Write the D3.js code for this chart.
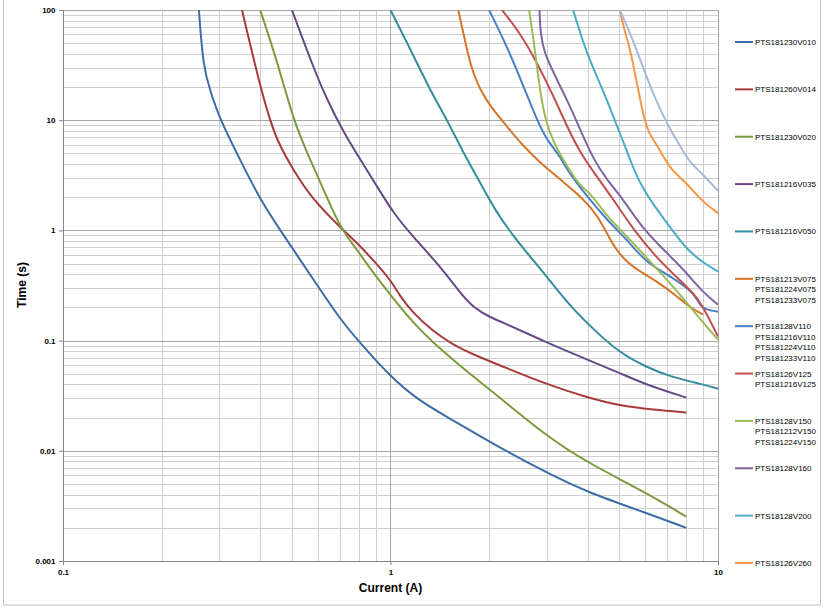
<!DOCTYPE html>
<meta charset="utf-8">
<title>PTS time-current curves</title>
<script src="https://d3js.org/d3.v7.min.js"></script>
<style>
body { margin: 0; background: #fff; }
svg { font-family: "Liberation Sans", Arial, sans-serif; }
.tick text { font-size: 8px; font-weight: bold; fill: #000; }
.axis path, .axis line { stroke: #868686; }
.curve { fill: none; stroke-width: 2px; stroke-linejoin: round; }
.legend text { font-size: 8px; fill: #000; }
</style>
<body>
<div id="chart"></div>
<script>
// current (A), time (s)
var v010 = [[0.26,100],[0.268,30.4],[0.281,18.8],[0.302,10],[0.347,4.4],[0.40,1.9],[0.46,1.01],[0.53,0.54],[0.61,0.29],[0.70,0.158],[0.81,0.094],[1.0,0.047],[1.21,0.029],[1.52,0.0196],[2.0,0.0121],[3.0,0.0063],[4.0,0.0042],[6.0,0.00275],[8.0,0.002]];
var v014 = [[0.352,100],[0.40,20.2],[0.429,10],[0.45,6.6],[0.504,3.54],[0.58,1.89],[0.70,1.08],[0.79,0.77],[0.885,0.54],[1.0,0.356],[1.07,0.252],[1.17,0.179],[1.35,0.121],[1.55,0.092],[1.79,0.0745],[2.21,0.058],[3.0,0.040],[4.0,0.0304],[5.0,0.0257],[6.35,0.0236],[8.0,0.0223]];
var v020 = [[0.40,100],[0.45,35],[0.505,10],[0.568,4.37],[0.64,2.0],[0.70,1.08],[0.79,0.667],[0.885,0.413],[1.0,0.26],[1.17,0.145],[1.42,0.083],[1.79,0.047],[2.06,0.034],[3.0,0.0135],[4.0,0.0078],[6.0,0.0042],[8.0,0.00253]];
var v035 = [[0.50,100],[0.58,30.6],[0.64,15.3],[0.72,7.7],[0.81,4.37],[0.91,2.5],[1.02,1.44],[1.17,0.88],[1.42,0.47],[1.63,0.272],[1.79,0.199],[2.02,0.162],[2.16,0.15],[3.0,0.096],[4.0,0.067],[5.0,0.051],[6.0,0.040],[8.0,0.0304]];
var v050 = [[1.0,100],[1.18,37.7],[1.32,18.8],[1.49,10],[1.67,5.05],[1.88,2.7],[2.11,1.44],[2.38,0.88],[2.61,0.627],[3.0,0.382],[3.54,0.204],[4.27,0.118],[5.0,0.078],[6.0,0.058],[7.15,0.047],[9.0,0.040],[10,0.0366]];
var v075 = [[1.61,100],[1.67,61.5],[1.73,37.7],[1.79,26.7],[1.88,18.8],[2.02,13.3],[2.27,8.75],[2.55,5.76],[2.87,4.07],[3.62,2.33],[4.17,1.54],[4.48,1.08],[4.8,0.715],[5.28,0.505],[6.0,0.396],[6.52,0.344],[7.5,0.252],[8.24,0.199],[9.0,0.172]];
var v110 = [[2.0,100],[2.27,46.5],[2.55,20.2],[2.8,10],[3.0,6.63],[3.3,4.68],[3.46,3.54],[3.98,2.03],[4.58,1.25],[5.28,0.82],[6.0,0.52],[7.0,0.396],[7.68,0.333],[8.43,0.27],[8.84,0.204],[9.26,0.19],[10,0.183]];
var v125 = [[2.19,100],[2.49,61.5],[2.8,33.4],[3.15,16.4],[3.46,8.75],[3.8,5.02],[4.27,3.08],[4.8,1.89],[5.53,1.01],[6.44,0.58],[7.5,0.372],[8.63,0.252],[9.26,0.172],[10,0.109]];
var v150 = [[2.65,100],[2.735,53.5],[2.8,30.6],[2.87,17.6],[2.97,10],[3.15,6.19],[3.46,3.8],[3.8,2.5],[4.08,2.18],[4.58,1.34],[5.28,0.88],[6.0,0.58],[7.0,0.356],[8.05,0.219],[9.04,0.144],[10,0.102]];
var v160 = [[2.85,100],[2.87,61.5],[2.94,41.9],[3.15,26.7],[3.46,15.3],[3.8,8.17],[4.17,4.37],[4.58,2.88],[5.15,1.89],[5.93,1.01],[6.83,0.667],[7.86,0.44],[9.04,0.27],[10,0.212]];
var v200 = [[3.61,100],[3.8,61.5],[3.98,40.5],[4.27,24.8],[4.58,15.3],[4.92,8.75],[5.21,5.76],[5.53,3.54],[5.93,2.33],[6.52,1.54],[7.24,1.01],[8.05,0.667],[9.04,0.505],[10,0.424]];
var v260 = [[5.01,100],[5.21,61.5],[5.4,43.4],[5.6,24.8],[5.79,15.3],[5.93,10.8],[6.14,7.62],[6.52,5.97],[7.15,3.54],[8.05,2.68],[8.84,1.89],[10,1.435]];
var v300 = [[5.01,100],[5.4,61.5],[5.79,35.2],[6.21,20.2],[6.67,12.4],[7.15,8.17],[7.68,5.76],[8.24,4.07],[8.84,3.4],[10,2.29]];

var series = [v010, v014, v020, v035, v050, v075, v110, v125, v150, v160, v200, v260, v300];
var legendLabels = [
  ["PTS181230V010"],
  ["PTS181260V014"],
  ["PTS181230V020"],
  ["PTS181216V035"],
  ["PTS181216V050"],
  ["PTS181213V075", "PTS181224V075", "PTS181233V075"],
  ["PTS18128V110", "PTS181216V110", "PTS181224V110", "PTS181233V110"],
  ["PTS18126V125", "PTS181216V125"],
  ["PTS18128V150", "PTS181212V150", "PTS181224V150"],
  ["PTS18128V160"],
  ["PTS18128V200"],
  ["PTS18126V260"]
];
var colors = ["#3e6ca8", "#a63c3a", "#7b9b3e", "#664a88", "#338c9f", "#d4752c",
              "#4a7ec6", "#c0504d", "#9bbb59", "#8064a2", "#4bacc6", "#f79646", "#a8b9d7"];
var xTicks = [0.1, 1, 10];
var yTicks = [0.001, 0.01, 0.1, 1, 10, 100];

var W = 824, H = 609;
var margin = {top: 10, right: 106, bottom: 48, left: 63},
    width = W - margin.left - margin.right,
    height = H - margin.top - margin.bottom;

var svg = d3.select("#chart")
  .append("svg")
    .attr("width", W)
    .attr("height", H);

// outer chart frame
svg.append("rect")
  .attr("x", 3.5).attr("y", -2)
  .attr("width", 817).attr("height", 607)
  .attr("fill", "none")
  .attr("stroke", "#bfbfbf");

var g = svg.append("g")
  .attr("transform", "translate(" + margin.left + "," + margin.top + ")");

var x = d3.scaleLog().domain([0.1, 10]).range([0, width]);
var y = d3.scaleLog().domain([0.001, 100]).range([height, 0]);

// gridlines
var xMinor = [], yMinor = [];
[0.1, 1].forEach(function(d) { for (var k = 2; k <= 9; k++) xMinor.push(d * k); });
[0.001, 0.01, 0.1, 1, 10].forEach(function(d) { for (var k = 2; k <= 9; k++) yMinor.push(d * k); });

g.append("g").selectAll("line").data(yMinor).enter().append("line")
  .attr("x1", 0).attr("x2", width)
  .attr("y1", function(d) { return Math.round(y(d)) + 0.5; })
  .attr("y2", function(d) { return Math.round(y(d)) + 0.5; })
  .attr("stroke", "#cfcfcf");
g.append("g").selectAll("line").data(xMinor).enter().append("line")
  .attr("y1", 0).attr("y2", height)
  .attr("x1", function(d) { return Math.round(x(d)) + 0.5; })
  .attr("x2", function(d) { return Math.round(x(d)) + 0.5; })
  .attr("stroke", "#cfcfcf");
g.append("g").selectAll("line").data(yTicks).enter().append("line")
  .attr("x1", 0).attr("x2", width)
  .attr("y1", function(d) { return Math.round(y(d)) + 0.5; })
  .attr("y2", function(d) { return Math.round(y(d)) + 0.5; })
  .attr("stroke", "#a6a6a6");
g.append("g").selectAll("line").data(xTicks).enter().append("line")
  .attr("y1", 0).attr("y2", height)
  .attr("x1", function(d) { return Math.round(x(d)) + 0.5; })
  .attr("x2", function(d) { return Math.round(x(d)) + 0.5; })
  .attr("stroke", "#a6a6a6");

// axes
g.append("g")
  .attr("class", "axis")
  .attr("transform", "translate(0," + height + ")")
  .call(d3.axisBottom(x).tickValues(xTicks).tickFormat(d3.format("~g"))
    .tickSize(4).tickSizeOuter(0).tickPadding(4));
g.append("g")
  .attr("class", "axis")
  .call(d3.axisLeft(y).tickValues(yTicks).tickFormat(d3.format("~g"))
    .tickSize(4).tickSizeOuter(0).tickPadding(3.5));

// curves
g.append("clipPath").attr("id", "plot-clip")
  .append("rect").attr("width", width).attr("height", height);

var line = d3.line()
  .x(function(d) { return x(d[0]); })
  .y(function(d) { return y(d[1]); })
  .curve(d3.curveBasis);

g.append("g")
  .attr("clip-path", "url(#plot-clip)")
  .selectAll("path")
  .data(series)
  .enter()
  .append("path")
    .attr("class", "curve")
    .attr("d", line)
    .attr("stroke", function(d, i) { return colors[i]; });

// axis titles
svg.append("text")
  .attr("x", margin.left + width / 2)
  .attr("y", 592)
  .attr("text-anchor", "middle")
  .style("font-size", "12px")
  .style("font-weight", "bold")
  .text("Current (A)");
svg.append("text")
  .attr("transform", "translate(26,285) rotate(-90)")
  .attr("text-anchor", "middle")
  .style("font-size", "12px")
  .style("font-weight", "bold")
  .text("Time (s)");

// legend
var ly = d3.scaleLinear().domain([0, legendLabels.length - 1]).range([42, 563]);
var legend = svg.append("g").attr("class", "legend")
  .selectAll("g")
  .data(legendLabels)
  .enter()
  .append("g")
    .attr("transform", function(d, i) { return "translate(735," + ly(i) + ")"; });
legend.append("line")
  .attr("x1", 0).attr("x2", 18)
  .attr("stroke", function(d, i) { return colors[i]; })
  .attr("stroke-width", 2);
legend.selectAll("text")
  .data(function(d) { return d; })
  .enter()
  .append("text")
    .attr("x", 20)
    .attr("y", function(d, j) { return j * 10.5 + 3; })
    .text(function(d) { return d; });
</script>
</body>
